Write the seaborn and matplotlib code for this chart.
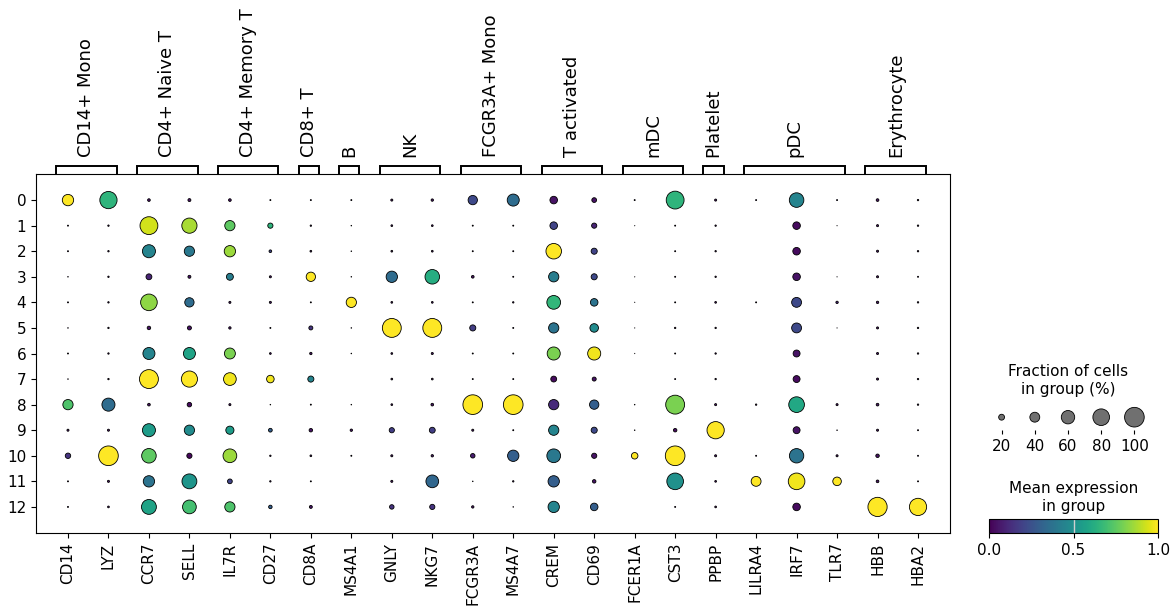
import numpy as np
import pandas as pd
import matplotlib
matplotlib.use("Agg")
import matplotlib.pyplot as plt
import seaborn as sns

# --- datos ---
genes = ['CD14', 'LYZ', 'CCR7', 'SELL', 'IL7R', 'CD27', 'CD8A', 'MS4A1', 'GNLY', 'NKG7',
         'FCGR3A', 'MS4A7', 'CREM', 'CD69', 'FCER1A', 'CST3', 'PPBP', 'LILRA4', 'IRF7',
         'TLR7', 'HBB', 'HBA2']
clusters = list(range(13))
group_names = ['CD14+ Mono', 'CD4+ Naive T', 'CD4+ Memory T', 'CD8+ T', 'B', 'NK',
               'FCGR3A+ Mono', 'T activated', 'mDC', 'Platelet', 'pDC', 'Erythrocyte']
group_sizes = [2, 2, 2, 1, 1, 2, 2, 2, 2, 1, 3, 2]

# fraccion de celulas (%) por cluster (filas) y gen (columnas)
frac = [
    [48, 84, 7, 8, 7, 2, 2, 2, 5, 6, 37, 52, 28, 15, 2, 88, 5, 2, 67, 2, 7, 3],
    [2, 3, 88, 71, 42, 17, 3, 1, 4, 4, 2, 2, 28, 17, 0.5, 2, 3, 0, 28, 0.5, 5, 3],
    [2, 3, 58, 42, 48, 7, 4, 1, 4, 4, 2, 2, 73, 21, 0, 2, 3, 0, 28, 0, 5, 3],
    [1, 3, 20, 8, 25, 5, 37, 1, 48, 67, 7, 2, 42, 21, 0.5, 2, 3, 0, 28, 0.5, 5, 2],
    [2, 3, 80, 37, 5, 5, 2, 42, 4, 4, 2, 3, 62, 28, 0.5, 2, 4, 2, 40, 6, 6, 3],
    [1, 3, 10, 12, 6, 2, 12, 1, 95, 95, 21, 2, 42, 33, 0.5, 3, 3, 0, 40, 0.5, 5, 3],
    [2, 3, 52, 52, 46, 4, 6, 1, 4, 5, 2, 2, 58, 58, 0.5, 2, 3, 0, 25, 0, 5, 3],
    [1, 3, 95, 77, 56, 28, 21, 0, 4, 4, 2, 2, 20, 12, 0, 2, 3, 0, 25, 0, 5, 3],
    [42, 58, 7, 14, 5, 1, 2, 1, 4, 7, 100, 100, 42, 37, 1, 95, 5, 3, 74, 5, 7, 3],
    [5, 5, 58, 42, 31, 11, 10, 6, 17, 20, 5, 2, 42, 21, 1, 10, 84, 0, 25, 1, 5, 2],
    [18, 100, 67, 17, 62, 3, 4, 2, 5, 6, 14, 48, 62, 17, 23, 100, 5, 2, 66, 5, 10, 2],
    [2, 5, 48, 69, 15, 3, 2, 0, 5, 56, 1, 3, 48, 10, 0, 80, 4, 40, 80, 33, 7, 2],
    [2, 4, 69, 62, 42, 10, 8, 0, 14, 17, 6, 1, 48, 28, 0, 2, 4, 0, 28, 0, 97, 84],
]

# expresion media (0-1)
expr = [
    [1.0, 0.65, 0.05, 0.05, 0.05, 0.1, 0.1, 0.1, 0.05, 0.05, 0.22, 0.35, 0.05, 0.05, 0.1, 0.65, 0.05, 0.1, 0.45, 0.1, 0.05, 0.05],
    [0.05, 0.05, 0.93, 0.87, 0.75, 0.65, 0.05, 0.05, 0.05, 0.05, 0.05, 0.05, 0.2, 0.1, 0.05, 0.05, 0.05, 0.05, 0.03, 0.05, 0.05, 0.05],
    [0.05, 0.05, 0.45, 0.4, 0.85, 0.2, 0.05, 0.05, 0.05, 0.05, 0.05, 0.05, 1.0, 0.2, 0.05, 0.05, 0.05, 0.05, 0.03, 0.05, 0.05, 0.05],
    [0.05, 0.05, 0.1, 0.05, 0.42, 0.05, 1.0, 0.05, 0.35, 0.62, 0.05, 0.05, 0.42, 0.22, 0.05, 0.05, 0.05, 0.05, 0.05, 0.05, 0.05, 0.05],
    [0.05, 0.05, 0.83, 0.35, 0.05, 0.05, 0.05, 1.0, 0.05, 0.05, 0.05, 0.05, 0.66, 0.38, 0.05, 0.05, 0.05, 0.05, 0.22, 0.1, 0.05, 0.05],
    [0.05, 0.05, 0.05, 0.05, 0.05, 0.05, 0.15, 0.05, 1.0, 1.0, 0.18, 0.05, 0.38, 0.48, 0.05, 0.05, 0.05, 0.05, 0.22, 0.05, 0.05, 0.05],
    [0.05, 0.05, 0.45, 0.58, 0.8, 0.05, 0.05, 0.05, 0.05, 0.05, 0.05, 0.05, 0.8, 0.98, 0.05, 0.05, 0.05, 0.05, 0.05, 0.05, 0.05, 0.05],
    [0.05, 0.05, 1.0, 1.0, 0.98, 0.98, 0.45, 0.05, 0.05, 0.05, 0.05, 0.05, 0.03, 0.05, 0.05, 0.05, 0.05, 0.05, 0.03, 0.05, 0.05, 0.05],
    [0.72, 0.35, 0.05, 0.03, 0.05, 0.05, 0.05, 0.05, 0.05, 0.05, 1.0, 1.0, 0.12, 0.3, 0.05, 0.8, 0.05, 0.05, 0.6, 0.05, 0.05, 0.05],
    [0.05, 0.05, 0.55, 0.48, 0.55, 0.3, 0.05, 0.05, 0.18, 0.18, 0.05, 0.05, 0.45, 0.22, 0.05, 0.03, 1.0, 0.05, 0.05, 0.05, 0.05, 0.05],
    [0.15, 1.0, 0.75, 0.02, 0.85, 0.05, 0.05, 0.05, 0.05, 0.05, 0.08, 0.3, 0.4, 0.05, 1.0, 1.0, 0.05, 0.05, 0.38, 0.05, 0.05, 0.05],
    [0.05, 0.05, 0.38, 0.52, 0.2, 0.05, 0.05, 0.05, 0.05, 0.33, 0.05, 0.05, 0.3, 0.05, 0.05, 0.5, 0.05, 1.0, 0.98, 1.0, 0.05, 0.05],
    [0.05, 0.05, 0.58, 0.7, 0.72, 0.3, 0.05, 0.05, 0.15, 0.15, 0.05, 0.05, 0.45, 0.3, 0.05, 0.05, 0.05, 0.05, 0.03, 0.05, 1.0, 1.0],
]

legend_fracs = [20, 40, 60, 80, 100]

# --- tabla larga ---
filas = []
for i, c in enumerate(clusters):
    for j, g in enumerate(genes):
        filas.append({'cluster': c, 'gene': g, 'frac': frac[i][j] / 100,
                      'expr': expr[i][j]})
df = pd.DataFrame(filas)
df['size'] = df['frac'] ** 1.5   # como scanpy: size_exponent = 1.5

W, H = 1172, 607
fig = plt.figure(figsize=(W / 100, H / 100), dpi=100)

# --- grafico principal ---
ax_l, ax_r, ax_t, ax_b = 36, 950, 174, 533
ax = fig.add_axes([ax_l / W, 1 - ax_b / H, (ax_r - ax_l) / W, (ax_b - ax_t) / H])
sns.scatterplot(data=df, x='gene', y='cluster', size='size', hue='expr',
                palette='viridis', hue_norm=(0, 1), sizes=(0, 200), size_norm=(0, 1),
                edgecolor='black', linewidth=0.6, legend=False, ax=ax, zorder=3)
ax.set_xlim(-0.79, len(genes) - 1 + 0.79)
ax.set_ylim(len(clusters) - 1 + 1.02, -1.02)
ax.set_yticks(clusters)
ax.set_yticklabels([str(c) for c in clusters])
ax.set_xlabel('')
ax.set_ylabel('')
ax.tick_params(axis='x', labelrotation=90, labelsize=11)
ax.tick_params(axis='y', labelsize=11)
ax.grid(False)

# --- corchetes de grupos ---
gax = fig.add_axes([ax_l / W, 1 - ax_t / H, (ax_r - ax_l) / W, ax_t / H])
gax.set_xlim(ax.get_xlim())
gax.set_ylim(0, ax_t)
gax.axis('off')
inicio = 0
for nombre, n in zip(group_names, group_sizes):
    izq = inicio - 0.3
    der = inicio + n - 1 + 0.2
    gax.plot([izq, izq, der, der], [0.5, 8.5, 8.5, 0.5], color='black', lw=1.4,
             solid_joinstyle='miter')
    gax.text((izq + der) / 2, 17, nombre, rotation=90, ha='center', va='bottom',
             fontsize=13)
    inicio += n

# --- leyenda de tamanos ---
sl_l, sl_r, sl_t, sl_b = 985, 1151, 398, 430
sax = fig.add_axes([sl_l / W, 1 - sl_b / H, (sl_r - sl_l) / W, (sl_b - sl_t) / H])
leg = pd.DataFrame({'pos': range(len(legend_fracs)), 'y': 0.4,
                    'size': (np.array(legend_fracs) / 100) ** 1.5})
sns.scatterplot(data=leg, x='pos', y='y', size='size', sizes=(0, 200), size_norm=(0, 1),
                color='#707070', edgecolor='black', linewidth=0.6, legend=False, ax=sax)
sax.set_xlim(-0.5, len(legend_fracs) - 0.5)
sax.set_ylim(0, 1)
sax.set_xticks(range(len(legend_fracs)))
sax.set_xticklabels([str(v) for v in legend_fracs], fontsize=11)
sax.set_yticks([])
sax.set_xlabel('')
sax.set_ylabel('')
sax.tick_params(axis='x', length=3)
for s in sax.spines.values():
    s.set_visible(False)
sax.set_title('Fraction of cells\nin group (%)', fontsize=11, pad=3)

# --- barra de color ---
cb_l, cb_r, cb_t, cb_b = 989, 1158, 519, 533
cax = fig.add_axes([cb_l / W, 1 - cb_b / H, (cb_r - cb_l) / W, (cb_b - cb_t) / H])
sm = plt.cm.ScalarMappable(norm=plt.Normalize(0, 1), cmap='viridis')
cb = fig.colorbar(sm, cax=cax, orientation='horizontal')
cb.set_ticks([0, 0.5, 1])
cb.set_ticklabels(['0.0', '0.5', '1.0'])
cax.tick_params(labelsize=11)
cax.axvline(0.5, color='#d0d0d0', lw=1)
cax.set_title('Mean expression\nin group', fontsize=11, pad=6)

fig.savefig('out.png', dpi=100)
